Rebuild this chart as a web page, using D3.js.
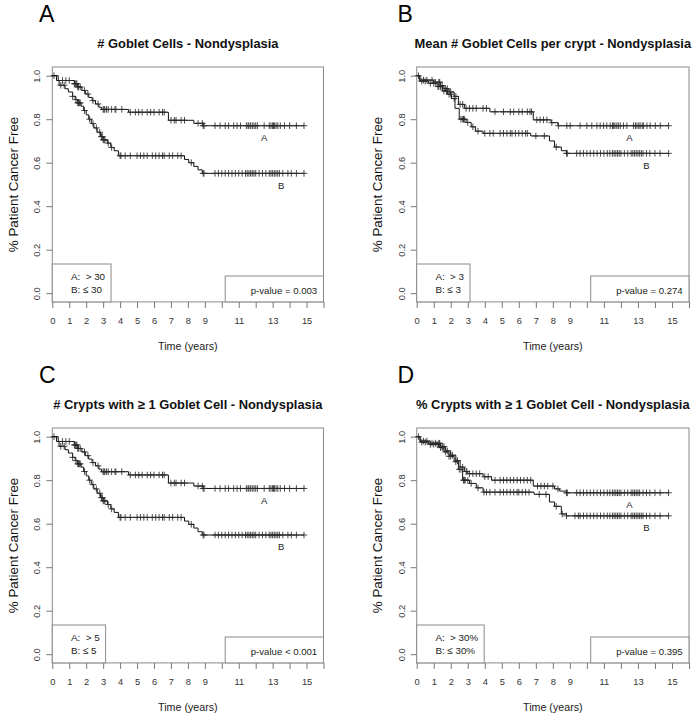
<!DOCTYPE html>
<html><head><meta charset="utf-8">
<script src="https://cdn.jsdelivr.net/npm/d3@7"></script>
<style>
body{margin:0;background:#fff;}
svg{display:block;font-family:"Liberation Sans",Arial,Helvetica,sans-serif;}
</style></head>
<body><svg id="c" width="692" height="716"></svg>
<script>
// ---------- data ----------
const panelLetters = ["A","B","C","D"];
const panelTitles = ["# Goblet Cells - Nondysplasia","Mean # Goblet Cells per crypt - Nondysplasia","# Crypts with \u2265 1 Goblet Cell - Nondysplasia","% Crypts with \u2265 1 Goblet Cell - Nondysplasia"];
const legendA = ["A:  > 30","A:  > 3","A:  > 5","A:  > 30%"];
const legendB = ["B: \u2264 30","B: \u2264 3","B: \u2264 5","B: \u2264 30%"];
const pValues = ["p-value = 0.003","p-value = 0.274","p-value < 0.001","p-value = 0.395"];
const xTicks = [0,1,2,3,4,5,6,7,8,9,10,11,12,13,14,15,16];
const xTickLabels = [0,1,2,3,4,5,6,7,8,9,11,13,15];
const yTicks = [0,0.2,0.4,0.6,0.8,1.0];
const endTime = [14.85,14.8,14.85,14.8];

// Panel A
const aTimeA = [0,0.35,1.3,1.5,1.75,1.95,2.15,2.35,2.55,2.75,2.9,4.5,6.85,8.35,8.9];
const aSurvA = [1,0.978,0.963,0.948,0.932,0.916,0.9,0.885,0.87,0.855,0.845,0.832,0.795,0.781,0.77];
const aCensA = [0.1,0.6,0.8,1.0,1.3,1.35,1.4,1.45,1.5,1.55,1.65,1.9,2.1,2.4,2.7,3.0,3.05,3.1,3.2,3.3,3.5,3.7,3.75,4.1,4.6,4.9,5.1,5.3,5.6,5.8,6.0,6.3,6.5,6.6,7.0,7.2,7.3,7.6,7.8,8.6,8.85,8.9,8.95,9.6,9.9,10.2,10.4,10.7,10.9,11.1,11.45,11.55,11.6,11.7,11.8,11.9,12.0,12.1,12.5,12.8,12.9,13.0,13.05,13.1,13.2,13.3,13.45,13.7,14.0,14.4,14.85];
const aTimeB = [0,0.25,0.4,0.75,0.95,1.2,1.35,1.5,1.7,1.85,2.0,2.15,2.3,2.45,2.65,2.85,3.0,3.25,3.45,3.65,3.9,7.8,8.05,8.35,8.6,8.85];
const aSurvB = [1,0.978,0.956,0.94,0.925,0.905,0.89,0.875,0.86,0.84,0.82,0.8,0.78,0.76,0.74,0.72,0.705,0.69,0.67,0.655,0.632,0.615,0.6,0.583,0.567,0.551];
const aCensB = [0.5,0.7,1.2,1.4,1.5,1.55,1.6,1.65,1.9,2.2,2.4,2.6,2.8,2.9,2.95,3.0,3.05,3.1,3.3,3.5,4.0,4.05,4.3,4.6,5.0,5.2,5.4,5.6,5.9,6.1,6.3,6.5,6.6,6.9,7.1,7.4,7.6,8.2,8.9,8.95,9.6,9.8,10.0,10.2,10.4,10.6,10.8,11.0,11.2,11.4,11.5,11.6,11.7,11.8,11.9,12.0,12.2,12.4,12.6,12.8,12.9,13.0,13.1,13.2,13.3,13.4,13.6,13.9,14.1,14.4,14.85];

// Panel B
const bTimeA = [0,0.2,1.0,1.4,1.6,1.9,2.2,2.45,2.8,4.3,6.85,7.9,8.3];
const bSurvA = [1,0.98,0.97,0.955,0.94,0.925,0.905,0.868,0.85,0.834,0.797,0.784,0.77];
const bCensA = [0.1,0.4,0.6,0.9,1.1,1.3,1.35,1.5,1.7,1.8,2.0,2.3,2.55,2.7,2.9,3.1,3.3,3.5,3.9,4.1,4.6,5.1,5.5,5.7,6.0,6.2,6.5,6.66,6.75,7.06,7.25,7.45,7.65,7.94,8.33,8.82,9.02,9.6,10.0,10.29,10.59,10.78,10.98,11.17,11.37,11.5,11.57,11.65,11.76,11.85,11.96,12.15,12.35,12.74,12.85,12.94,13.05,13.13,13.25,13.33,13.53,13.72,14.02,14.31,14.8];
const bTimeB = [0,0.15,0.7,1.2,1.5,1.8,2.05,2.25,2.5,2.9,3.2,3.45,3.9,6.7,7.8,8.1,8.5,8.8];
const bSurvB = [1,0.975,0.965,0.95,0.93,0.915,0.895,0.85,0.8,0.785,0.765,0.745,0.735,0.723,0.7,0.672,0.655,0.643];
const bCensB = [0.3,0.5,0.8,1.0,1.25,1.3,1.4,1.6,1.75,1.9,2.0,2.2,2.6,2.7,2.75,2.8,3.0,3.3,3.6,4.0,4.3,4.5,4.9,5.1,5.3,5.5,5.6,5.8,6.0,6.2,6.4,6.5,7.0,7.5,8.2,8.8,8.85,9.4,9.6,9.8,10.0,10.2,10.4,10.6,10.8,11.0,11.2,11.35,11.5,11.6,11.7,11.8,11.9,12.0,12.2,12.4,12.6,12.7,12.8,12.9,13.0,13.1,13.2,13.3,13.5,13.7,14.0,14.3,14.8];

// Panel C
const cTimeA = [0,0.35,1.3,1.5,1.75,1.95,2.15,2.35,2.55,2.75,2.9,4.5,6.85,8.35,8.9];
const cSurvA = [1,0.978,0.962,0.946,0.93,0.913,0.897,0.881,0.866,0.851,0.839,0.824,0.787,0.773,0.762];
const cCensA = [0.1,0.6,0.8,1.0,1.3,1.35,1.4,1.45,1.5,1.55,1.65,1.9,2.1,2.4,2.7,3.0,3.05,3.1,3.2,3.3,3.5,3.7,3.75,4.1,4.6,4.9,5.1,5.3,5.6,5.8,6.0,6.3,6.5,6.6,7.0,7.2,7.3,7.6,7.8,8.6,8.85,8.9,8.95,9.6,9.9,10.2,10.4,10.7,10.9,11.1,11.45,11.55,11.6,11.7,11.8,11.9,12.0,12.1,12.5,12.8,12.9,13.0,13.05,13.1,13.2,13.3,13.45,13.7,14.0,14.4,14.85];
const cTimeB = [0,0.25,0.4,0.75,0.95,1.2,1.35,1.5,1.7,1.85,2.0,2.15,2.3,2.45,2.65,2.85,3.0,3.25,3.45,3.65,3.9,7.8,8.05,8.35,8.6,8.85];
const cSurvB = [1,0.978,0.956,0.94,0.925,0.905,0.89,0.875,0.86,0.84,0.82,0.8,0.78,0.76,0.74,0.72,0.705,0.688,0.668,0.652,0.629,0.612,0.597,0.58,0.563,0.548];
const cCensB = [0.5,0.7,1.2,1.4,1.5,1.55,1.6,1.65,1.9,2.2,2.4,2.6,2.8,2.9,2.95,3.0,3.05,3.1,3.3,3.5,4.0,4.05,4.3,4.6,5.0,5.2,5.4,5.6,5.9,6.1,6.3,6.5,6.6,6.9,7.1,7.4,7.6,8.2,8.9,8.95,9.6,9.8,10.0,10.2,10.4,10.6,10.8,11.0,11.2,11.4,11.5,11.6,11.7,11.8,11.9,12.0,12.2,12.4,12.6,12.8,12.9,13.0,13.1,13.2,13.3,13.4,13.6,13.9,14.1,14.4,14.85];

// Panel D
const dTimeA = [0,0.2,0.8,1.4,1.7,2.0,2.3,2.55,2.8,3.0,3.9,4.4,6.85,8.1,8.4,8.8];
const dSurvA = [1,0.98,0.97,0.955,0.935,0.915,0.89,0.86,0.84,0.83,0.816,0.8,0.773,0.76,0.75,0.742];
const dCensA = [0.1,0.4,0.6,0.9,1.1,1.3,1.35,1.5,1.6,1.8,2.1,2.4,2.7,2.9,2.95,3.1,3.3,3.5,3.7,4.0,4.2,4.6,4.9,5.1,5.3,5.5,5.7,5.9,6.1,6.3,6.5,6.7,7.1,7.3,7.5,7.7,8.0,8.3,8.8,8.85,9.4,9.6,9.8,10.0,10.2,10.4,10.6,10.8,11.0,11.2,11.35,11.5,11.6,11.7,11.8,11.9,12.0,12.2,12.4,12.6,12.7,12.8,12.9,13.0,13.1,13.3,13.5,13.7,14.0,14.3,14.8];
const dTimeB = [0,0.2,0.7,1.3,1.6,1.9,2.2,2.45,2.7,3.1,3.5,3.9,6.9,7.8,8.1,8.5,8.8];
const dSurvB = [1,0.975,0.965,0.95,0.93,0.91,0.885,0.85,0.8,0.785,0.765,0.745,0.735,0.7,0.68,0.645,0.636];
const dCensB = [0.3,0.5,0.8,1.0,1.2,1.4,1.5,1.7,1.9,2.0,2.3,2.5,2.6,2.75,2.8,2.85,3.0,3.2,3.6,3.95,4.1,4.3,4.6,4.9,5.1,5.3,5.5,5.7,5.9,6.0,6.2,6.4,6.6,7.2,7.6,8.2,8.55,8.8,9.3,9.5,9.6,9.8,10.0,10.2,10.4,10.6,10.8,11.0,11.2,11.35,11.5,11.6,11.7,11.8,11.9,12.0,12.2,12.4,12.6,12.7,12.8,12.9,13.0,13.1,13.2,13.3,13.5,13.7,14.0,14.3,14.8];

// ---------- layout ----------
const groups = [
  {tA:aTimeA,sA:aSurvA,cA:aCensA,tB:aTimeB,sB:aSurvB,cB:aCensB},
  {tA:bTimeA,sA:bSurvA,cA:bCensA,tB:bTimeB,sB:bSurvB,cB:bCensB},
  {tA:cTimeA,sA:cSurvA,cA:cCensA,tB:cTimeB,sB:cSurvB,cB:cCensB},
  {tA:dTimeA,sA:dSurvA,cA:dCensA,tB:dTimeB,sB:dSurvB,cB:dCensB}
];
const lefts = [52.3, 416.7];
const widths = [271.2, 272.3];
const rowOff = [0, 361];
const svg = d3.select("#c");
const FONT = "'Liberation Sans',Arial,Helvetica,sans-serif";

function survAt(times, surv, t){
  let v = 1;
  for (let i=0;i<times.length;i++){ if (times[i] <= t) v = surv[i]; }
  return v;
}

groups.forEach((g, p) => {
  const col = p % 2, row = Math.floor(p/2);
  const L = lefts[col], R = L + widths[col];
  const off = rowOff[row];
  const x = d3.scaleLinear().domain([0,16]).range([L, R]);
  const y = d3.scaleLinear().domain([-0.04,1.04]).range([301.9+off, 67+off]);
  const top = y(1.04), bot = y(-0.04);
  const gp = svg.append("g");

  // panel letter
  gp.append("text").attr("x", col===0 ? 39 : 397.5).attr("y", 21.7+off)
    .attr("font-size", 23).attr("fill","#000").text(panelLetters[p]);
  // title
  gp.append("text").attr("x",(L+R)/2).attr("y", top-19.2).attr("text-anchor","middle")
    .attr("font-size",12.9).attr("font-weight","bold").attr("fill","#111").text(panelTitles[p]);

  // box
  gp.append("rect").attr("x",L).attr("y",top).attr("width",R-L).attr("height",bot-top)
    .attr("fill","none").attr("stroke","#8a8a8a").attr("stroke-width",1);

  // x axis
  const xa = gp.append("g").attr("transform",`translate(0,${bot})`)
    .call(d3.axisBottom(x).tickValues(xTicks).tickSize(6)
      .tickFormat(d => xTickLabels.includes(d) ? d : ""));
  xa.select(".domain").remove();
  xa.selectAll("line").attr("stroke","#777");
  xa.selectAll("text").attr("font-size",9.3).attr("fill","#333").attr("font-family",FONT).attr("dy",null).attr("y",22.6);
  gp.append("text").attr("x",(L+R)/2).attr("y",bot+47.6).attr("text-anchor","middle")
    .attr("font-size",10.7).attr("fill","#222").text("Time (years)");

  // y axis
  const ya = gp.append("g").attr("transform",`translate(${L},0)`)
    .call(d3.axisLeft(y).tickValues(yTicks).tickSize(6).tickFormat(d3.format(".1f")));
  ya.select(".domain").remove();
  ya.selectAll("line").attr("stroke","#777");
  ya.selectAll("text").attr("font-size",9.3).attr("fill","#333").attr("font-family",FONT)
    .attr("x",null).attr("dy",null).attr("text-anchor","middle")
    .attr("transform","translate(-12,0) rotate(-90)");
  gp.append("text").attr("transform",`translate(${L-34.7},${(top+bot)/2}) rotate(-90)`)
    .attr("text-anchor","middle").attr("font-size",13.4).attr("fill","#111").text("% Patient Cancer Free");

  // curves
  const line = d3.line().x(d=>x(d[0])).y(d=>y(d[1])).curve(d3.curveStepAfter);
  [[g.tA,g.sA,g.cA],[g.tB,g.sB,g.cB]].forEach(([t,s,c]) => {
    const pts = t.map((tt,i)=>[tt,s[i]]);
    pts.push([endTime[p], s[s.length-1]]);
    gp.append("path").attr("d",line(pts)).attr("fill","none").attr("stroke","#111").attr("stroke-width",1);
    gp.append("g").selectAll("path").data(c).join("path")
      .attr("d", d => {
        const px = x(d), py = y(survAt(t,s,d));
        return `M${px-3.3},${py}h6.6M${px},${py-3.3}v6.6`;
      })
      .attr("stroke","#2a2a2a").attr("stroke-opacity",0.85).attr("stroke-width",1).attr("fill","none");
  });
  // curve labels
  gp.append("text").attr("x",x(12.5)).attr("y",y(g.sA[g.sA.length-1]-0.055)).attr("dy","0.35em")
    .attr("text-anchor","middle").attr("font-size",9.5).attr("fill","#222").text("A");
  gp.append("text").attr("x",x(13.5)).attr("y",y(g.sB[g.sB.length-1]-0.055)).attr("dy","0.35em")
    .attr("text-anchor","middle").attr("font-size",9.5).attr("fill","#222").text("B");

  // legend box (bottom-left)
  const lg = gp.append("g");
  const lrect = lg.append("rect").attr("fill","#fff").attr("stroke","#8a8a8a").attr("stroke-width",1);
  const t1 = lg.append("text").attr("x",L+18.7).attr("y",bot-21.9).attr("font-size",9.8).attr("fill","#222")
    .style("white-space","pre").text(legendA[p]);
  const t2 = lg.append("text").attr("x",L+18.7).attr("y",bot-9.1).attr("font-size",9.8).attr("fill","#222")
    .style("white-space","pre").text(legendB[p]);
  const tw = Math.max(t1.node().getComputedTextLength(), t2.node().getComputedTextLength());
  lrect.attr("x",L).attr("y",bot-37.9).attr("width",18.7+tw+6).attr("height",37.9);

  // p-value box (bottom-right)
  gp.append("rect").attr("x",R-98.3).attr("y",bot-25.9).attr("width",98.3).attr("height",25.9)
    .attr("fill","#fff").attr("stroke","#8a8a8a").attr("stroke-width",1);
  gp.append("text").attr("x",R-6.3).attr("y",bot-8).attr("text-anchor","end")
    .attr("font-size",9.6).attr("fill","#222").text(pValues[p]);
});
</script></body></html>
